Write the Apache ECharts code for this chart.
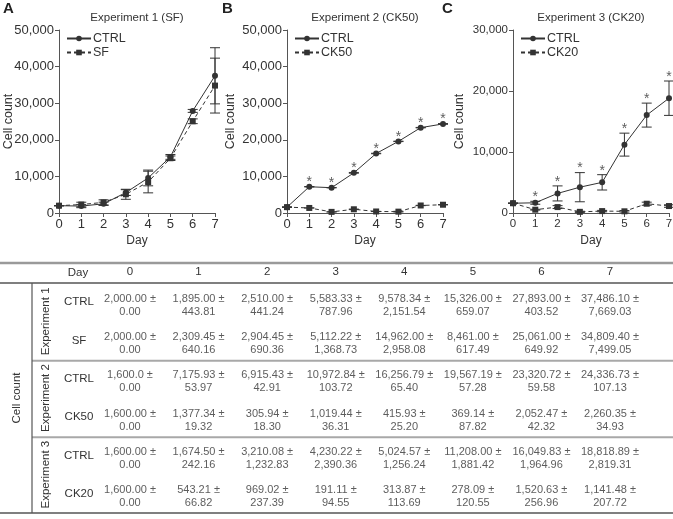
<!DOCTYPE html>
<html>
<head>
<meta charset="utf-8">
<script src="https://cdn.jsdelivr.net/npm/echarts@6/dist/echarts.min.js"></script>
<style>
  html, body { margin: 0; padding: 0; background: #fff; }
  #chart { width: 673px; height: 519px; }
</style>
</head>
<body>
<div id="chart"></div>
<script>
// Days (x axis of the plots, columns of the table)
const days = [0, 1, 2, 3, 4, 5, 6, 7];

// Experiment 1 (SF)
const exp1CtrlMean = [2000.00, 1895.00, 2510.00, 5583.33, 9578.34, 15326.00, 27893.00, 37486.10];
const exp1CtrlSd = [0.00, 443.81, 441.24, 787.96, 2151.54, 659.07, 403.52, 7669.03];
const exp1SfMean = [2000.00, 2309.45, 2904.45, 5112.22, 14962.00, 8461.00, 25061.00, 34809.40];
const exp1SfSd = [0.00, 640.16, 690.36, 1368.73, 2958.08, 617.49, 649.92, 7499.05];
// the plot in panel A shows days 4 and 5 of SF the other way round
const exp1SfPlotMean = [2000.00, 2309.45, 2904.45, 5112.22, 8461.00, 14962.00, 25061.00, 34809.40];

// Experiment 2 (CK50)
const exp2CtrlMean = [1600.00, 7175.93, 6915.43, 10972.84, 16256.79, 19567.19, 23320.72, 24336.73];
const exp2CtrlSd = [0.00, 53.97, 42.91, 103.72, 65.40, 57.28, 59.58, 107.13];
const exp2Ck50Mean = [1600.00, 1377.34, 305.94, 1019.44, 415.93, 369.14, 2052.47, 2260.35];
const exp2Ck50Sd = [0.00, 19.32, 18.30, 36.31, 25.20, 87.82, 42.32, 34.93];

// Experiment 3 (CK20)
const exp3CtrlMean = [1600.00, 1674.50, 3210.08, 4230.22, 5024.57, 11208.00, 16049.83, 18818.89];
const exp3CtrlSd = [0.00, 242.16, 1232.83, 2390.36, 1256.24, 1881.42, 1964.96, 2819.31];
const exp3Ck20Mean = [1600.00, 543.21, 969.02, 191.11, 313.87, 278.09, 1520.63, 1141.48];
const exp3Ck20Sd = [0.00, 66.82, 237.39, 94.55, 113.69, 120.55, 256.96, 207.72];

// days marked with * above the CTRL curve
const starsB = [1, 2, 3, 4, 5, 6, 7];
const starsC = [1, 2, 3, 4, 5, 6, 7];

// table labels
const tableRowLabels = ['CTRL', 'SF', 'CTRL', 'CK50', 'CTRL', 'CK20'];
const tableGroupLabels = ['Experiment 1', 'Experiment 2', 'Experiment 3'];
const oneDecimalCells = [[2, 0]]; // printed as "1,600.0" in the source table

const FONT = "'Liberation Sans', Arial, Helvetica, sans-serif";
const INK = '#333';
const AXIS = '#555';

const panels = [
  { letter: 'A', letterX: 3, title: 'Experiment 1 (SF)', left: 59, yMax: 50000, font: 13, nameGap: 44,
    ctrl: ['CTRL', exp1CtrlMean, exp1CtrlSd], trt: ['SF', exp1SfPlotMean, exp1SfSd], stars: [] },
  { letter: 'B', letterX: 222, title: 'Experiment 2 (CK50)', left: 287, yMax: 50000, font: 13, nameGap: 50,
    ctrl: ['CTRL', exp2CtrlMean, exp2CtrlSd], trt: ['CK50', exp2Ck50Mean, exp2Ck50Sd], stars: starsB },
  { letter: 'C', letterX: 442, title: 'Experiment 3 (CK20)', left: 513, yMax: 30000, font: 11.5, nameGap: 47,
    ctrl: ['CTRL', exp3CtrlMean, exp3CtrlSd], trt: ['CK20', exp3Ck20Mean, exp3Ck20Sd], stars: starsC }
];
const tableRows = [
  [exp1CtrlMean, exp1CtrlSd], [exp1SfMean, exp1SfSd],
  [exp2CtrlMean, exp2CtrlSd], [exp2Ck50Mean, exp2Ck50Sd],
  [exp3CtrlMean, exp3CtrlSd], [exp3Ck20Mean, exp3Ck20Sd]
];

const PLOT_W = 156, PLOT_TOP = 30, PLOT_H = 183;

function fmt(v, digits) {
  return v.toLocaleString('en-US', { minimumFractionDigits: digits, maximumFractionDigits: digits });
}

function errorBar(params, api) {
  const x = api.value(0);
  const lo = api.coord([x, api.value(1)]);
  const hi = api.coord([x, api.value(2)]);
  const w = 5;
  const style = { stroke: INK, lineWidth: 1 };
  return {
    type: 'group',
    children: [
      { type: 'line', shape: { x1: lo[0], y1: lo[1], x2: hi[0], y2: hi[1] }, style },
      { type: 'line', shape: { x1: lo[0] - w, y1: lo[1], x2: lo[0] + w, y2: lo[1] }, style },
      { type: 'line', shape: { x1: hi[0] - w, y1: hi[1], x2: hi[0] + w, y2: hi[1] }, style }
    ]
  };
}

const grid = [], xAxis = [], yAxis = [], series = [], legend = [];

panels.forEach((p, i) => {
  grid.push({ left: p.left, top: PLOT_TOP, width: PLOT_W, height: PLOT_H, outerBoundsMode: 'none', containLabel: false });
  xAxis.push({
    gridIndex: i, type: 'value', min: 0, max: 7, interval: 1,
    name: 'Day', nameLocation: 'middle', nameGap: 22, nameMoveOverlap: false,
    nameTextStyle: { fontSize: 12, color: INK },
    axisLine: { lineStyle: { color: AXIS } },
    axisTick: { length: 4, lineStyle: { color: AXIS } },
    axisLabel: { fontSize: p.font, color: INK, margin: 5 },
    splitLine: { show: false }
  });
  yAxis.push({
    gridIndex: i, type: 'value', min: 0, max: p.yMax, interval: 10000,
    name: 'Cell count', nameLocation: 'middle', nameGap: p.nameGap, nameMoveOverlap: false,
    nameTextStyle: { fontSize: 12.5, color: INK },
    axisLine: { show: true, lineStyle: { color: AXIS } },
    axisTick: { show: true, length: 4, lineStyle: { color: AXIS } },
    axisLabel: { fontSize: p.font, color: INK, margin: 5, formatter: (v) => v.toLocaleString('en-US') },
    splitLine: { show: false }
  });
  legend.push({
    data: [p.ctrl[0], p.trt[0]], orient: 'vertical', left: p.left + 2, top: 27,
    itemWidth: 24, itemHeight: 7, itemGap: 1, selectedMode: false,
    textStyle: { fontSize: 12.5, color: INK, padding: [0, 0, 0, -3] }
  });

  [[p.ctrl, 'circle', 'solid'], [p.trt, 'rect', [4, 3]]].forEach(([grp, sym, dash]) => {
    const [name, mean, sd] = grp;
    series.push({
      type: 'custom', name: name + ' sd', xAxisIndex: i, yAxisIndex: i,
      renderItem: errorBar, encode: { x: 0, y: [1, 2] }, clip: false, z: 1,
      data: days.map((d) => [d, mean[d] - sd[d], mean[d] + sd[d]])
    });
    series.push({
      type: 'line', name, xAxisIndex: i, yAxisIndex: i,
      data: days.map((d) => [d, mean[d]]),
      symbol: sym, symbolSize: 6, showAllSymbol: true, clip: false, z: 3,
      itemStyle: { color: INK },
      lineStyle: { color: INK, width: 1, type: dash },
      emphasis: { disabled: true }
    });
  });

  const [, cMean, cSd] = p.ctrl;
  series.push({
    type: 'scatter', name: 'sig ' + p.letter, xAxisIndex: i, yAxisIndex: i,
    symbolSize: 0, clip: false, silent: true,
    data: p.stars.map((d) => [d, cMean[d] + cSd[d]]),
    label: { show: true, formatter: '*', position: 'inside', offset: [0, -4], fontSize: 14, color: INK }
  });
});

// table: a grid whose x axis gives the day columns and y axis the rows
const T = 3;
grid.push({ left: 130, right: 63, top: 283, bottom: 6, outerBoundsMode: 'none', containLabel: false });
xAxis.push({
  gridIndex: T, type: 'value', min: 0, max: 7, interval: 1, position: 'top',
  axisLine: { show: false }, axisTick: { show: false }, splitLine: { show: false },
  axisLabel: { fontSize: 11.5, color: INK, margin: 5 }
});
yAxis.push({
  gridIndex: T, type: 'category', inverse: true, data: tableRowLabels,
  axisLine: { show: false }, axisTick: { show: false }, splitLine: { show: false },
  axisLabel: { fontSize: 11.5, color: INK, margin: 51, align: 'center', padding: [5, 0, 0, 0] }
});
const cells = [];
tableRows.forEach(([mean, sd], r) => {
  days.forEach((d) => {
    const digits = oneDecimalCells.some(([rr, dd]) => rr === r && dd === d) ? 1 : 2;
    cells.push({ name: fmt(mean[d], digits) + ' ±\n' + fmt(sd[d], 2), value: [d, r] });
  });
});
series.push({
  type: 'scatter', name: 'table', xAxisIndex: T, yAxisIndex: T,
  symbolSize: 0, silent: true, clip: false, data: cells,
  label: { show: true, position: 'inside', offset: [0, 3], formatter: '{b}', fontSize: 11, lineHeight: 13, color: INK }
});

const option = {
  animation: false,
  backgroundColor: '#fff',
  textStyle: { fontFamily: FONT },
  grid, xAxis, yAxis, legend, series
};

const chart = echarts.init(document.getElementById('chart'));
chart.setOption(option);

// decorations placed from the axes' own pixel positions
const graphic = [];
const txt = (text, x, y, extra) => ({
  type: 'text', x, y, silent: true,
  style: Object.assign({ text, fill: INK, fontSize: 11, fontFamily: FONT, align: 'center', verticalAlign: 'middle' }, extra || {})
});
panels.forEach((p, i) => {
  const c = chart.convertToPixel({ gridIndex: i }, [3.5, p.yMax]);
  graphic.push(txt(p.title, c[0], c[1] - 12, { fontSize: 11.5 }));
  graphic.push(txt(p.letter, p.letterX, 9, { fontSize: 15, fontWeight: 'bold', fill: '#222', align: 'left' }));
});

const rowY = (r) => chart.convertToPixel({ gridIndex: T }, [0, r])[1];
const band = rowY(1) - rowY(0);
const headerY = rowY(0) - band / 2;
const bottomY = rowY(5) + band / 2;
const sepY = [(rowY(1) + rowY(2)) / 2 + 1, (rowY(3) + rowY(4)) / 2 + 1];
const topY = headerY - 20;
const W = chart.getWidth();
const vX = 32;
const line = (x1, y1, x2, y2, stroke, lineWidth) => ({
  type: 'line', silent: true, shape: { x1, y1, x2, y2 }, style: { stroke, lineWidth }
});
graphic.push(line(0, topY, W, topY, '#9a9a9a', 2.5));
graphic.push(line(0, headerY, W, headerY, '#555', 1.5));
graphic.push(line(0, bottomY, W, bottomY, '#555', 1.5));
sepY.forEach((y) => graphic.push(line(vX, y, W, y, '#a8a8a8', 2)));
graphic.push(line(vX, headerY, vX, bottomY, '#555', 1.2));
graphic.push(txt('Day', 78, (topY + headerY) / 2, { fontSize: 11.5 }));
const groupY = [[0, 1], [2, 3], [4, 5]].map(([a, b]) => (rowY(a) + rowY(b)) / 2);
tableGroupLabels.forEach((t, g) => {
  graphic.push(txt(t, 46, groupY[g], { fontSize: 11.5 }));
  graphic[graphic.length - 1].rotation = Math.PI / 2;
});
const cc = txt('Cell count', 17, (headerY + bottomY) / 2, { fontSize: 11.5 });
cc.rotation = Math.PI / 2;
graphic.push(cc);

chart.setOption({ graphic });
</script>
</body>
</html>
